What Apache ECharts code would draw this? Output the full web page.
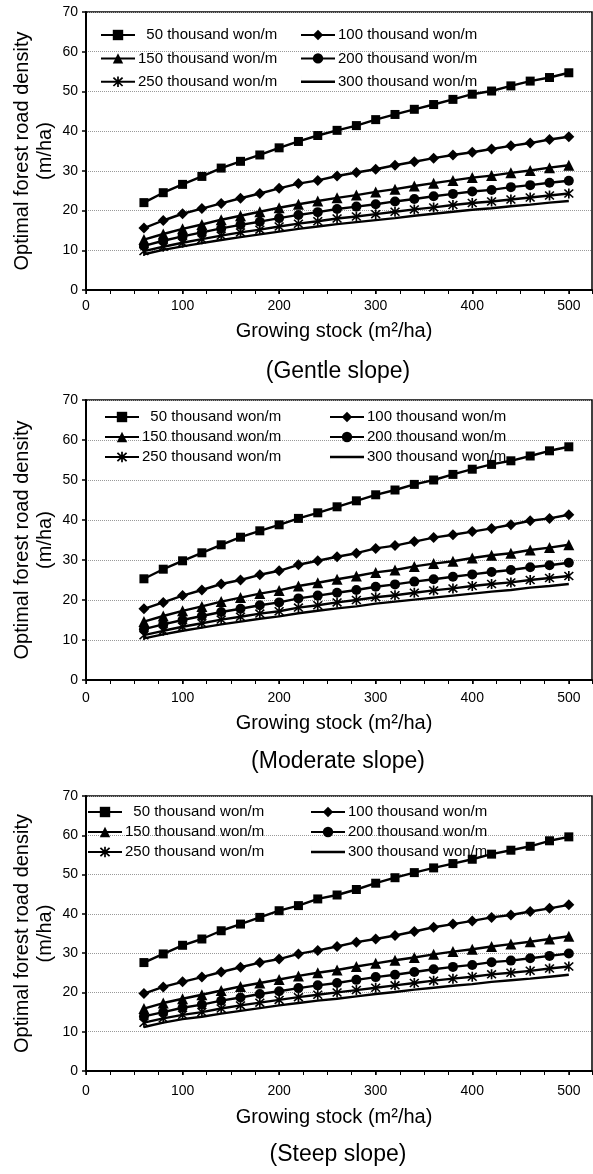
<!DOCTYPE html>
<html>
<head>
<meta charset="utf-8">
<script src="https://cdn.jsdelivr.net/npm/echarts@6/dist/echarts.min.js"></script>
<style>
html, body { margin: 0; padding: 0; background: #fff; }
#main { width: 593px; height: 1174px; }
</style>
</head>
<body>
<div id="main"></div>
<script>
// growing stock (m2/ha) sampled every 20
var stockX = [60, 80, 100, 120, 140, 160, 180, 200, 220, 240, 260, 280, 300, 320, 340, 360, 380, 400, 420, 440, 460, 480, 500];
var costNames = ['50 thousand won/m', '100 thousand won/m', '150 thousand won/m',
                 '200 thousand won/m', '250 thousand won/m', '300 thousand won/m'];
var xTicks = [0, 100, 200, 300, 400, 500];
var yTicks = [0, 10, 20, 30, 40, 50, 60, 70];

// gentle slope
var gentle50  = [22.0, 24.5, 26.6, 28.6, 30.7, 32.4, 34.0, 35.8, 37.4, 38.9, 40.2, 41.4, 42.9, 44.2, 45.5, 46.7, 48.0, 49.3, 50.1, 51.4, 52.6, 53.5, 54.7];
var gentle100 = [15.6, 17.5, 19.2, 20.5, 21.8, 23.1, 24.3, 25.6, 26.8, 27.6, 28.7, 29.6, 30.4, 31.4, 32.3, 33.2, 34.0, 34.7, 35.5, 36.3, 37.0, 37.9, 38.6];
var gentle150 = [12.7, 14.1, 15.4, 16.5, 17.7, 18.7, 19.7, 20.7, 21.6, 22.4, 23.2, 23.9, 24.7, 25.4, 26.2, 26.9, 27.6, 28.3, 28.8, 29.5, 30.1, 30.8, 31.4];
var gentle200 = [11.1, 12.4, 13.5, 14.5, 15.5, 16.4, 17.2, 18.1, 18.9, 19.6, 20.4, 21.0, 21.6, 22.3, 22.9, 23.6, 24.2, 24.8, 25.2, 25.9, 26.4, 27.0, 27.5];
var gentle250 = [9.8, 10.9, 11.9, 12.8, 13.7, 14.5, 15.2, 16.0, 16.7, 17.3, 18.0, 18.5, 19.1, 19.7, 20.3, 20.8, 21.4, 21.9, 22.3, 22.8, 23.3, 23.8, 24.3];
var gentle300 = [9.0, 10.1, 11.0, 11.8, 12.6, 13.3, 14.0, 14.7, 15.4, 16.0, 16.6, 17.1, 17.6, 18.1, 18.7, 19.2, 19.7, 20.2, 20.6, 21.1, 21.5, 22.0, 22.4];

// moderate slope
var moderate50  = [25.3, 27.7, 29.8, 31.8, 33.8, 35.7, 37.3, 38.8, 40.4, 41.8, 43.3, 44.8, 46.3, 47.5, 48.9, 50.0, 51.4, 52.7, 53.9, 54.8, 56.0, 57.3, 58.3];
var moderate100 = [17.8, 19.4, 21.1, 22.5, 24.0, 25.0, 26.3, 27.3, 28.8, 29.8, 30.8, 31.7, 32.9, 33.6, 34.6, 35.6, 36.3, 37.1, 37.9, 38.8, 39.8, 40.4, 41.3];
var moderate150 = [14.6, 16.0, 17.3, 18.4, 19.6, 20.6, 21.6, 22.4, 23.5, 24.3, 25.2, 26.0, 26.9, 27.5, 28.4, 29.1, 29.7, 30.5, 31.2, 31.7, 32.5, 33.1, 33.8];
var moderate200 = [12.7, 13.9, 15.0, 16.0, 17.0, 17.8, 18.7, 19.4, 20.4, 21.1, 21.8, 22.5, 23.3, 23.9, 24.6, 25.2, 25.8, 26.4, 27.0, 27.5, 28.2, 28.7, 29.3];
var moderate250 = [11.2, 12.3, 13.3, 14.2, 15.1, 15.8, 16.6, 17.2, 18.1, 18.7, 19.4, 20.0, 20.7, 21.2, 21.8, 22.4, 22.9, 23.5, 24.0, 24.4, 25.0, 25.5, 26.0];
var moderate300 = [10.4, 11.4, 12.3, 13.1, 13.9, 14.6, 15.3, 15.9, 16.7, 17.3, 17.9, 18.4, 19.1, 19.6, 20.1, 20.6, 21.1, 21.6, 22.1, 22.5, 23.1, 23.5, 24.0];

// steep slope
var steep50  = [27.6, 29.8, 32.0, 33.6, 35.7, 37.4, 39.1, 40.8, 42.1, 43.8, 44.8, 46.2, 47.8, 49.2, 50.5, 51.7, 52.8, 53.9, 55.2, 56.2, 57.2, 58.6, 59.6];
var steep100 = [19.7, 21.4, 22.7, 23.9, 25.2, 26.4, 27.6, 28.5, 29.8, 30.7, 31.7, 32.8, 33.6, 34.5, 35.5, 36.6, 37.4, 38.2, 39.1, 39.7, 40.6, 41.4, 42.3];
var steep150 = [15.9, 17.3, 18.4, 19.4, 20.5, 21.5, 22.4, 23.3, 24.2, 25.0, 25.7, 26.6, 27.4, 28.2, 28.9, 29.7, 30.4, 31.0, 31.7, 32.3, 32.9, 33.6, 34.3];
var steep200 = [13.9, 15.0, 16.1, 16.9, 17.9, 18.7, 19.6, 20.3, 21.1, 21.8, 22.4, 23.2, 23.9, 24.5, 25.2, 25.9, 26.5, 27.0, 27.7, 28.1, 28.7, 29.3, 29.9];
var steep250 = [12.3, 13.4, 14.3, 15.0, 15.9, 16.7, 17.4, 18.1, 18.8, 19.4, 20.0, 20.6, 21.2, 21.8, 22.4, 23.0, 23.5, 24.0, 24.6, 25.0, 25.5, 26.1, 26.6];
var steep300 = [11.2, 12.3, 13.2, 13.8, 14.6, 15.3, 16.0, 16.7, 17.3, 17.9, 18.4, 19.0, 19.6, 20.1, 20.7, 21.2, 21.7, 22.1, 22.7, 23.1, 23.5, 24.0, 24.5];

var FONT = '"Liberation Sans", Arial, sans-serif';
var ASTERISK = 'path://M-1.5,-10L1.5,-10L1.5,10L-1.5,10Z M-9,-6.9L-6.9,-9L9,6.9L6.9,9Z M6.9,-9L9,-6.9L-6.9,9L-9,6.9Z';
// plain line legend icon (sliver at left keeps the bar in the middle)
var LINE_ICON = 'path://M0,0L0.01,0L0.01,13L0,13Z M0,5.3L34,5.3L34,7.7L0,7.7Z';
var symbols = ['rect', 'diamond', 'triangle', 'circle', ASTERISK, 'none'];
var symbolSizes = [9, 11, 11, 10, 10, 0];

var panels = [
    { caption: '(Gentle slope)', top: 12, height: 278, data: [gentle50, gentle100, gentle150, gentle200, gentle250, gentle300],
      legLeft: [100, 300], legTop: 27, legGap: 7.4, labelGap: 9, nameGap: 31, capY: 372 },
    { caption: '(Moderate slope)', top: 400, height: 280, data: [moderate50, moderate100, moderate150, moderate200, moderate250, moderate300],
      legLeft: [104, 329], legTop: 409, legGap: 4, labelGap: 11, nameGap: 33, capY: 762 },
    { caption: '(Steep slope)', top: 796, height: 275, data: [steep50, steep100, steep150, steep200, steep250, steep300],
      legLeft: [87, 310], legTop: 804, legGap: 4, labelGap: 13, nameGap: 36, capY: 1155 }
];

var grids = [], xAxes = [], yAxes = [], legends = [], series = [], graphics = [];

panels.forEach(function(p, pi) {
    grids.push({
        left: 86, top: p.top, width: 506, height: p.height,
        show: true, borderColor: '#000', borderWidth: 1.5, backgroundColor: 'transparent'
    });
    // major axis
    xAxes.push({
        type: 'value', gridIndex: pi, min: 0, max: 524, interval: 100,
        name: 'Growing stock (m\u00b2/ha)', nameLocation: 'middle', nameGap: p.nameGap,
        nameTextStyle: { fontFamily: FONT, fontSize: 20, color: '#000', padding: [0, 10, 0, 0] },
        axisLine: { show: true, onZero: false, lineStyle: { color: '#000', width: 2 } },
        axisTick: { show: true, inside: false, length: 4, lineStyle: { color: '#000', width: 1.5 } },
        axisLabel: { show: true, margin: p.labelGap, fontFamily: FONT, fontSize: 14, color: '#000', showMaxLabel: false,
            formatter: function(v) { return xTicks.indexOf(v) >= 0 ? String(v) : ''; } },
        splitLine: { show: false }
    });
    // minor ticks every 25
    xAxes.push({
        type: 'value', gridIndex: pi, min: 0, max: 524, interval: 25,
        axisLine: { show: false },
        axisTick: { show: true, inside: true, length: 4, lineStyle: { color: '#000', width: 1 } },
        axisLabel: { show: false },
        splitLine: { show: false }
    });
    yAxes.push({
        type: 'value', gridIndex: pi, min: 0, max: 70, interval: 10,
        name: 'Optimal forest road density\n(m/ha)', nameLocation: 'middle', nameRotate: 90, nameGap: 29,
        nameMoveOverlap: false,
        nameTextStyle: { fontFamily: FONT, fontSize: 20, lineHeight: 23, color: '#000' },
        axisLine: { show: true, onZero: false, lineStyle: { color: '#000', width: 2 } },
        axisTick: { show: true, inside: false, length: 4, lineStyle: { color: '#000', width: 1.5 } },
        axisLabel: { margin: 8, fontFamily: FONT, fontSize: 14, color: '#000',
            formatter: function(v) { return yTicks.indexOf(v) >= 0 ? String(v) : ''; } },
        splitLine: { show: true, lineStyle: { color: '#999', type: 'dotted', width: 1 } }
    });
    [[0, 2, 4], [1, 3, 5]].forEach(function(col, ci) {
        legends.push({
            orient: 'vertical', left: p.legLeft[ci], top: p.legTop,
            itemWidth: 34, itemHeight: 13, itemGap: p.legGap, padding: 0,
            selectedMode: false,
            data: col.map(function(k) {
                return k === 5 ? { name: costNames[k], icon: LINE_ICON } : costNames[k];
            }),
            formatter: function(n) { return n === costNames[0] ? '  ' + n : n; },
            textStyle: { fontFamily: FONT, fontSize: 15, lineHeight: 16, color: '#000', padding: [0, 0, 0, -2] }
        });
    });
    p.data.forEach(function(arr, k) {
        series.push({
            type: 'line', name: costNames[k],
            xAxisIndex: pi * 2, yAxisIndex: pi,
            data: stockX.map(function(x, i) { return [x, arr[i]]; }),
            symbol: symbols[k], symbolSize: symbolSizes[k], showSymbol: k < 5,
            lineStyle: { color: '#000', width: 2.4 },
            itemStyle: { color: '#000' },
            emphasis: { disabled: true },
            z: 10 - k
        });
    });
    graphics.push({
        type: 'text', x: 338, y: p.capY,
        style: { text: p.caption, fontFamily: FONT, fontSize: 23, fill: '#000', align: 'center', verticalAlign: 'middle' }
    });
});

var chart = echarts.init(document.getElementById('main'), null, { renderer: 'canvas' });
chart.setOption({
    animation: false,
    backgroundColor: '#fff',
    grid: grids,
    xAxis: xAxes,
    yAxis: yAxes,
    legend: legends,
    series: series,
    graphic: graphics
});
</script>
</body>
</html>
